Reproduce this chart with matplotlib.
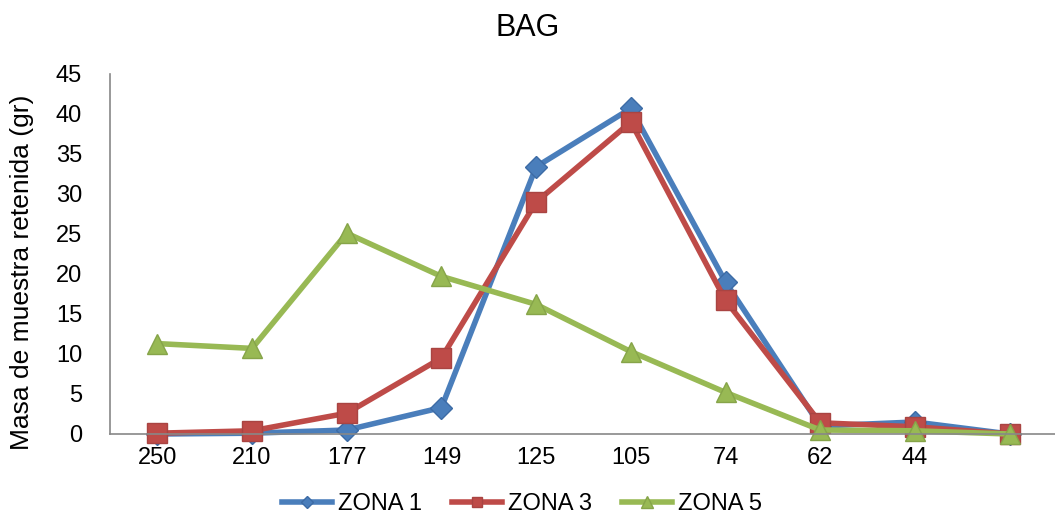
import matplotlib.pyplot as plt
import numpy as np

plt.rcParams['font.family'] = ['Liberation Sans', 'DejaVu Sans']

# tamices (el ultimo punto no tiene etiqueta)
categorias = ['250', '210', '177', '149', '125', '105', '74', '62', '44', '']
zona1 = [0.0, 0.1, 0.5, 3.3, 33.4, 40.7, 19.0, 1.0, 1.5, 0.0]
zona3 = [0.1, 0.4, 2.6, 9.5, 29.0, 39.0, 16.7, 1.4, 0.9, 0.0]
zona5 = [11.3, 10.7, 25.1, 19.7, 16.2, 10.3, 5.2, 0.5, 0.4, 0.0]

fig = plt.figure(figsize=(10.55, 5.27), dpi=100)
ax = fig.add_axes([110 / 1055, 1 - 434 / 527, 947 / 1055, 360 / 527])

x = np.arange(len(categorias))
ax.plot(x, zona1, color='#4A7EBB', linewidth=4, marker='D', markersize=11,
        markeredgecolor='#3C6BA5', label='ZONA 1')
ax.plot(x, zona3, color='#BE4B48', linewidth=4, marker='s', markersize=14,
        markeredgecolor='#A94442', label='ZONA 3')
ax.plot(x, zona5, color='#98B954', linewidth=4, marker='^', markersize=15,
        markeredgecolor='#86A449', label='ZONA 5')

ax.set_xlim(-0.5, len(categorias) - 0.5)
ax.set_ylim(0, 45)
ax.set_yticks(range(0, 46, 5))
ax.set_xticks(x)
ax.set_xticklabels(categorias)
ax.tick_params(axis='x', length=0, labelsize=17, pad=9)
ax.tick_params(axis='y', length=0, labelsize=17, pad=20)

for s in ['top', 'right']:
    ax.spines[s].set_visible(False)
for s in ['left', 'bottom']:
    ax.spines[s].set_color('#888888')
    ax.spines[s].set_linewidth(1.2)

ax.set_ylabel('Masa de muestra retenida (gr)', fontsize=19)
ax.yaxis.set_label_coords(-0.08, 0.45)
fig.suptitle('BAG', fontsize=22, y=0.975)

ax.legend(loc='upper center', bbox_to_anchor=(0.435, -0.125), ncol=3,
          frameon=False, fontsize=17, handlelength=2.1, columnspacing=1.3,
          handletextpad=0.25, markerscale=0.55, borderaxespad=0.2)
for line in ax.lines:
    line.set_clip_on(False)

fig.savefig('out.png', dpi=100)
